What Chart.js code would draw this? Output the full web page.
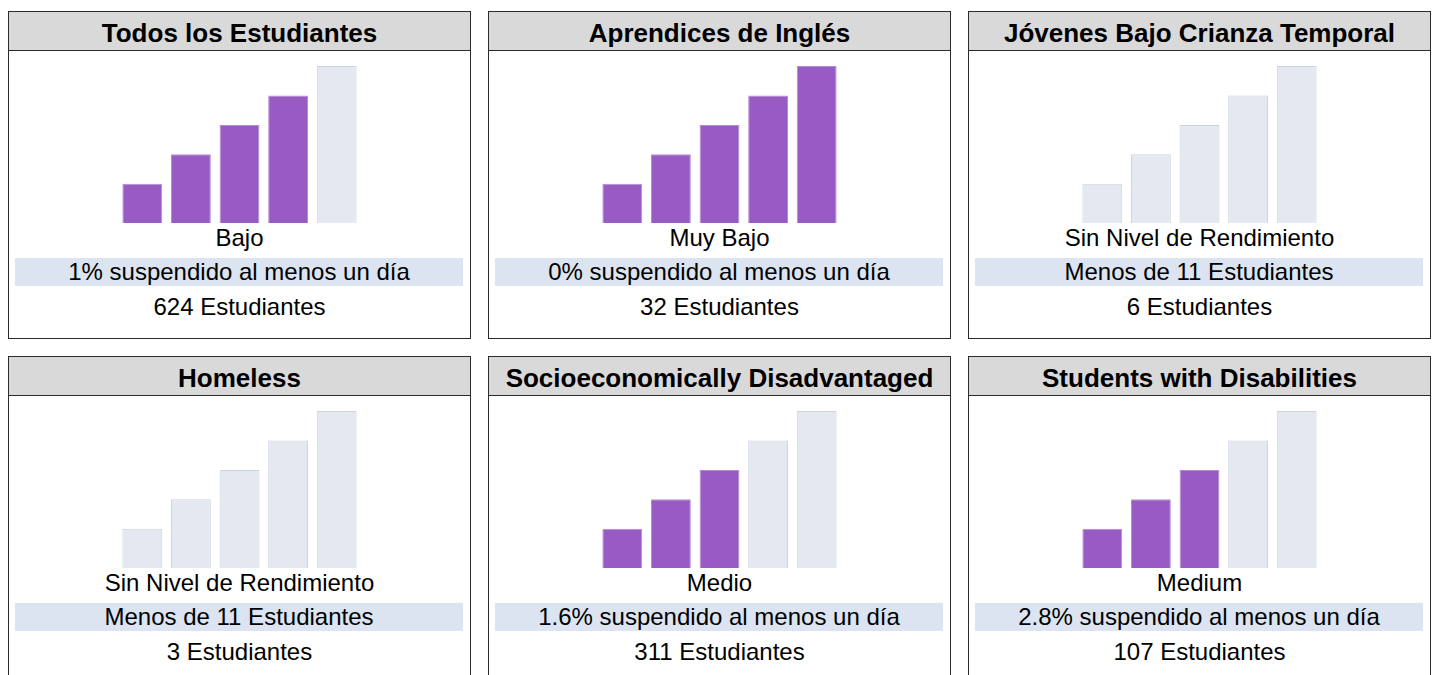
<!DOCTYPE html>
<html>
<head>
<meta charset="utf-8">
<script src="https://cdn.jsdelivr.net/npm/chart.js@4"></script>
<style>
    body { margin: 0; background: #fff; font-family: 'Liberation Sans', Arial, sans-serif; width: 1432px; height: 675px; overflow: hidden; position: relative; }
    .panel { position: absolute; width: 461px; height: 326px; border: 1px solid #2b2b2b; box-sizing: content-box; }
    .head { height: 38px; background: #d9d9d9; border-bottom: 1px solid #2b2b2b; text-align: center; font-weight: bold; font-size: 26px; line-height: 42px; color: #000; white-space: nowrap; }
    .chart { position: absolute; left: 109px; top: 54px; width: 243px; height: 157px; }
    .lvl { position: absolute; left: 0; width: 100%; top: 212px; text-align: center; font-size: 24px; line-height: 28px; }
    .band { position: absolute; left: 6px; width: 448px; top: 246px; height: 28px; background: #dbe4f0; text-align: center; font-size: 24px; line-height: 28px; }
    .cnt { position: absolute; left: 0; width: 100%; top: 281px; text-align: center; font-size: 24px; line-height: 28px; }
</style>
</head>
<body>
<script>
// datos de cada grupo
const groups = ['Todos los Estudiantes', 'Aprendices de Inglés', 'Jóvenes Bajo Crianza Temporal', 'Homeless', 'Socioeconomically Disadvantaged', 'Students with Disabilities'];
const levelLabels = ['Bajo', 'Muy Bajo', 'Sin Nivel de Rendimiento', 'Sin Nivel de Rendimiento', 'Medio', 'Medium'];
const rateTexts = ['1% suspendido al menos un día', '0% suspendido al menos un día', 'Menos de 11 Estudiantes', 'Menos de 11 Estudiantes', '1.6% suspendido al menos un día', '2.8% suspendido al menos un día'];
const studentCounts = [624, 32, 6, 3, 311, 107];
const filledBars = [4, 5, 0, 0, 3, 3];
const barSteps = ['1', '2', '3', '4', '5'];
const barHeights = [4, 7, 10, 13, 16];

const PURPLE = '#975bc3', PURPLE_EDGE = '#b38bd6';
const GRAY = '#e4e9f1', GRAY_EDGE = '#cfd3d9';

groups.forEach((g, i) => {
    const col = i % 3, row = Math.floor(i / 3);
    const panel = document.createElement('div');
    panel.className = 'panel';
    panel.style.left = (8 + col * 480) + 'px';
    panel.style.top = (11 + row * 345) + 'px';
    panel.innerHTML = `<div class="head">${g}</div>
        <div class="chart"><canvas width="243" height="157"></canvas></div>
        <div class="lvl">${levelLabels[i]}</div>
        <div class="band">${rateTexts[i]}</div>
        <div class="cnt">${studentCounts[i]} Estudiantes</div>`;
    document.body.appendChild(panel);

    const on = barHeights.map((_, k) => k < filledBars[i]);
    new Chart(panel.querySelector('canvas'), {
        type: 'bar',
        data: {
            labels: barSteps,
            datasets: [{
                data: barHeights,
                backgroundColor: on.map(x => x ? PURPLE : GRAY),
                borderColor: on.map(x => x ? PURPLE_EDGE : GRAY_EDGE),
                borderWidth: { top: 1, left: 1, right: 1, bottom: 0 },
                barPercentage: 0.82,
                categoryPercentage: 1
            }]
        },
        options: {
            responsive: false,
            animation: false,
            devicePixelRatio: 1,
            layout: { padding: 0 },
            plugins: { legend: { display: false }, tooltip: { enabled: false } },
            scales: {
                x: { display: false },
                y: { display: false, min: 0, max: 16 }
            }
        }
    });
});
</script>
</body>
</html>
